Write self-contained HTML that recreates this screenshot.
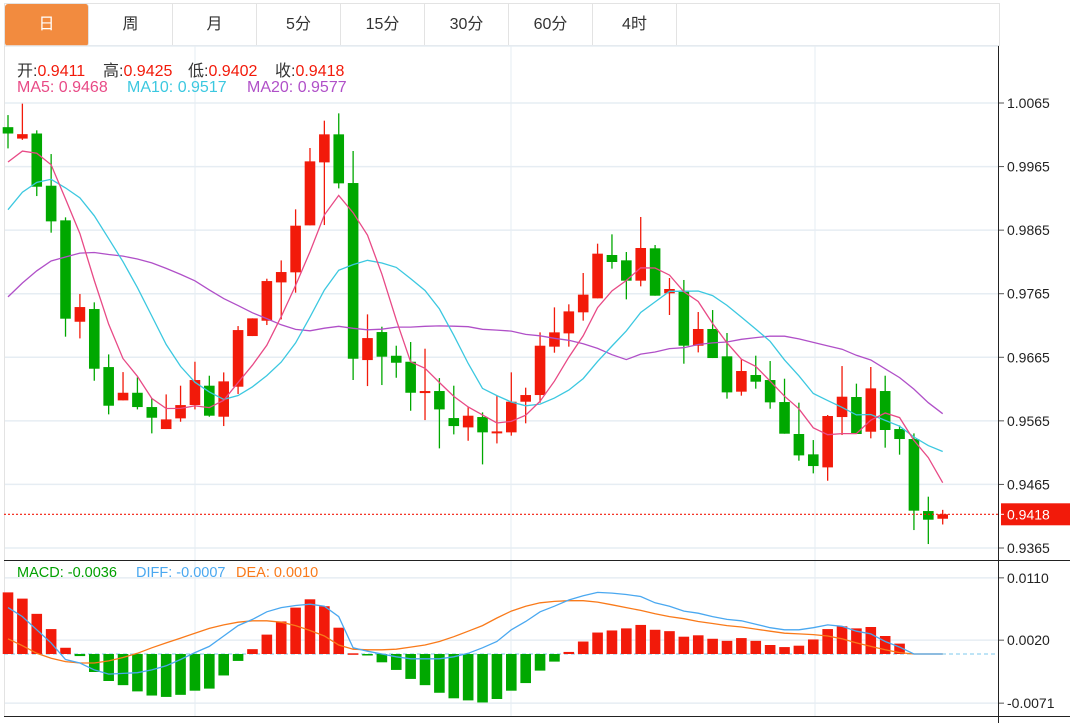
<!DOCTYPE html>
<html><head><meta charset="utf-8">
<style>
body{margin:0;background:#fff;width:1070px;height:723px;overflow:hidden;font-family:"Liberation Sans","Noto Sans CJK SC",sans-serif;}
#tabs{position:absolute;left:4px;top:3px;width:996px;height:43px;border:1px solid #e3e3e3;box-sizing:border-box;}
.tab{position:absolute;top:0;height:42px;width:84px;line-height:42px;text-align:center;font-size:16px;color:#333;border-right:1px solid #e3e3e3;box-sizing:border-box;}
.tab.on{background:#f28b3f;color:#fff;border-radius:3px;}
svg{position:absolute;left:0;top:0;}
.info{position:absolute;left:0;top:0;font-size:16px;white-space:nowrap;}
.info span{position:absolute;white-space:nowrap;}
</style></head><body>
<div id="tabs">
<div class="tab on" style="left:0">日</div>
<div class="tab" style="left:84px">周</div>
<div class="tab" style="left:168px">月</div>
<div class="tab" style="left:252px">5分</div>
<div class="tab" style="left:336px">15分</div>
<div class="tab" style="left:420px">30分</div>
<div class="tab" style="left:504px">60分</div>
<div class="tab" style="left:588px">4时</div>
</div>
<svg id="chart" width="1070" height="723"></svg>
<div class="info">
<span style="left:17px;top:57px"><span style="position:static;color:#333">开:</span><span style="position:static;color:#f21a0a">0.9411</span></span>
<span style="left:103px;top:57px"><span style="position:static;color:#333">高:</span><span style="position:static;color:#f21a0a">0.9425</span></span>
<span style="left:188px;top:57px"><span style="position:static;color:#333">低:</span><span style="position:static;color:#f21a0a">0.9402</span></span>
<span style="left:275px;top:57px"><span style="position:static;color:#333">收:</span><span style="position:static;color:#f21a0a">0.9418</span></span>
</div>
<div class="info">
<span style="left:17px;top:79px;color:#e84a86">MA5: 0.9468</span>
<span style="left:127px;top:79px;color:#3cc8e0">MA10: 0.9517</span>
<span style="left:247px;top:79px;color:#b050c8">MA20: 0.9577</span>
</div>
<div class="info" style="font-size:14.5px">
<span style="left:17px;top:565px;color:#00a000">MACD: -0.0036</span>
<span style="left:136px;top:565px;color:#4aa8f0">DIFF: -0.0007</span>
<span style="left:236px;top:565px;color:#f97a1a">DEA: 0.0010</span>
</div>
<script>
const opens=[1.0027,1.0009,1.0017,0.99349,0.98804,0.97209,0.97409,0.96496,0.95972,0.96092,0.95867,0.95521,0.95689,0.95898,0.96203,0.95715,0.96187,0.96984,0.97225,0.97828,0.97986,0.98725,0.99716,1.00157,0.99391,0.96606,0.97047,0.96674,0.9658,0.96087,0.96119,0.95694,0.95547,0.9571,0.95453,0.95469,0.95951,0.96056,0.96817,0.97026,0.97357,0.97577,0.98259,0.98175,0.97855,0.98364,0.97656,0.97698,0.96832,0.97095,0.96665,0.96109,0.96371,0.96292,0.95946,0.95443,0.95123,0.94918,0.9571,0.96025,0.95479,0.96119,0.95521,0.95364,0.94231,0.9411];
const highs=[1.0046,1.0064,1.0022,0.99847,0.98851,0.97645,0.97514,0.96695,0.96417,0.96334,0.96003,0.96066,0.96203,0.9658,0.9636,0.96412,0.97141,0.97262,0.97886,0.98174,0.98977,0.99942,1.00372,1.00487,0.99894,0.97325,0.97131,0.96832,0.9689,0.96785,0.96323,0.96203,0.95872,0.95783,0.96045,0.96413,0.96172,0.97042,0.97435,0.97483,0.97976,0.98437,0.98584,0.98306,0.98857,0.98416,0.97897,0.97866,0.97362,0.97393,0.97032,0.96623,0.96675,0.96591,0.96313,0.95936,0.95348,0.95742,0.96512,0.96235,0.96497,0.9636,0.95579,0.95453,0.94457,0.9425];
const lows=[0.99936,1.0007,0.99186,0.9861,0.96974,0.96947,0.96281,0.95752,0.95972,0.9583,0.95453,0.95521,0.95636,0.9583,0.95715,0.95568,0.96072,0.96984,0.97157,0.97246,0.97666,0.98725,0.9873,0.99307,0.96292,0.96197,0.96213,0.96328,0.95809,0.95662,0.95217,0.95437,0.95337,0.94965,0.95295,0.95417,0.95611,0.95936,0.96722,0.96817,0.97226,0.97577,0.98044,0.97561,0.97766,0.97619,0.97315,0.96549,0.96727,0.96638,0.95999,0.96046,0.96156,0.95841,0.95448,0.95023,0.94824,0.94708,0.95427,0.95443,0.95375,0.95228,0.95118,0.93932,0.93712,0.9402];
const closes=[1.0017,1.0016,0.99333,0.98788,0.97257,0.9744,0.9647,0.95888,0.96092,0.95867,0.95699,0.95673,0.95898,0.96292,0.95731,0.96271,0.97078,0.97262,0.97849,0.97991,0.9872,0.99732,1.00157,0.99386,0.96627,0.96952,0.96659,0.96564,0.96092,0.96119,0.9583,0.95568,0.95731,0.95469,0.95484,0.95951,0.96056,0.96832,0.97042,0.97372,0.97635,0.9828,0.98149,0.97855,0.98369,0.97619,0.97724,0.96832,0.97095,0.96638,0.96098,0.96434,0.96266,0.95941,0.95448,0.95107,0.94939,0.95726,0.9603,0.95443,0.96161,0.95506,0.95364,0.94237,0.94095,0.9418];
const priorCloses=[0.958,0.955,0.957,0.960,0.962,0.963,0.965,0.966,0.968,0.969,0.974,0.978,0.983,0.986,0.990,0.993,0.995,0.997,0.9994];
const macdHist=[0.0089,0.0080,0.0058,0.0036,0.0009,-0.0003,-0.0026,-0.0039,-0.0045,-0.0054,-0.0060,-0.0062,-0.0059,-0.0053,-0.0050,-0.0031,-0.0010,0.0007,0.0028,0.0047,0.0067,0.0079,0.0069,0.0038,0.0001,-0.0001,-0.0012,-0.0023,-0.0036,-0.0045,-0.0056,-0.0064,-0.0067,-0.0070,-0.0065,-0.0053,-0.0042,-0.0024,-0.0011,0.0003,0.0018,0.0031,0.0034,0.0037,0.0042,0.0035,0.0033,0.0025,0.0027,0.0022,0.0019,0.0023,0.0019,0.0013,0.0010,0.0012,0.0021,0.0036,0.0040,0.0037,0.0039,0.0026,0.0015,0,0,0];
const diffLine=[0.0067,0.0054,0.0035,0.0016,-0.0008,-0.0013,-0.0023,-0.0029,-0.0028,-0.0027,-0.0023,-0.0017,-0.0008,0.0002,0.0011,0.0026,0.0041,0.0050,0.0061,0.0067,0.0070,0.0072,0.0069,0.0054,0.0009,0.0004,0.0000,-0.0004,-0.0007,-0.0007,-0.0007,-0.0004,0.0001,0.0009,0.0018,0.0035,0.0047,0.0061,0.0069,0.0078,0.0084,0.0089,0.0088,0.0086,0.0083,0.0074,0.0069,0.0062,0.0059,0.0054,0.0050,0.0048,0.0043,0.0038,0.0035,0.0035,0.0038,0.0042,0.0040,0.0033,0.0029,0.0018,0.0010,0,0,0];
const deaLine=[0.0022,0.0012,0.0001,-0.0006,-0.0011,-0.0013,-0.0013,-0.0010,-0.0005,0.0001,0.0009,0.0016,0.0023,0.0030,0.0037,0.0042,0.0046,0.0048,0.0048,0.0046,0.0041,0.0034,0.0026,0.0013,0.0007,0.0006,0.0006,0.0007,0.0010,0.0013,0.0018,0.0025,0.0033,0.0041,0.0052,0.0062,0.0069,0.0074,0.0076,0.0077,0.0077,0.0075,0.0071,0.0067,0.0063,0.0058,0.0054,0.0051,0.0047,0.0044,0.0041,0.0039,0.0036,0.0033,0.0030,0.0029,0.0028,0.0026,0.0022,0.0016,0.0011,0.0006,0.0002,0,0,0];
const priceTicks=[1.0065,0.9965,0.9865,0.9765,0.9665,0.9565,0.9465,0.9365];
const macdTicks=[0.0110,0.0020,-0.0071];
const lastPrice=0.9418;

const svg=document.getElementById('chart');
const NS='http://www.w3.org/2000/svg';
function el(tag,attrs,parent){const e=document.createElementNS(NS,tag);for(const k in attrs)e.setAttribute(k,attrs[k]);(parent||svg).appendChild(e);return e;}
const xOf=i=>8+i*14.38;
const yP=p=>103+(1.0065-p)*6357;
const yM=v=>654-v*6923;

[195,511,815].forEach(x=>{const g=el('line',{x1:x,x2:x,y1:46,y2:716,stroke:'#e6edf3'});

});
priceTicks.forEach(t=>{const y=yP(t);
const g=el('line',{x1:4,x2:998,y1:y,y2:y,stroke:'#e6edf3','stroke-width':1.5});


el('line',{x1:999,x2:1004,y1:y,y2:y,stroke:'#555'});
const tx=el('text',{x:1007,y:y+5,'font-size':14,fill:'#222'});tx.textContent=t.toFixed(4);

});
el('line',{x1:4,x2:998,y1:46,y2:46,stroke:'#e6edf3','stroke-width':1.5});
macdTicks.forEach(t=>{const y=yM(t);
const g=el('line',{x1:4,x2:998,y1:y,y2:y,stroke:'#e6edf3','stroke-width':1.5});


el('line',{x1:999,x2:1004,y1:y,y2:y,stroke:'#555'});
const tx=el('text',{x:1007,y:y+5,'font-size':14,fill:'#222'});tx.textContent=t.toFixed(4);

});
el('line',{x1:4.5,x2:4.5,y1:46,y2:717,stroke:'#e3e3e3'});
el('line',{x1:998.5,x2:998.5,y1:46,y2:723,stroke:'#222'});
el('line',{x1:4,x2:1070,y1:560.5,y2:560.5,stroke:'#222'});
el('line',{x1:4,x2:1070,y1:716.5,y2:716.5,stroke:'#222'});

const RED='#f21a0a',GRN='#00a800';
for(let i=0;i<closes.length;i++){
 const x=xOf(i),up=closes[i]>=opens[i],c=up?RED:GRN;
 const g=el('g',{});
 
 
 el('line',{x1:x,x2:x,y1:yP(highs[i]),y2:yP(lows[i]),stroke:c,'stroke-width':1.3},g);
 const t=yP(Math.max(opens[i],closes[i])),b=yP(Math.min(opens[i],closes[i]));
 el('rect',{x:x-5.3,y:t,width:10.6,height:Math.max(1.5,b-t),fill:c},g);
}
const all=priorCloses.concat(closes),P=priorCloses.length;
function ma(n,color,name){let pts=[];for(let i=0;i<closes.length;i++){let s=0;for(let k=0;k<n;k++)s+=all[P+i-k];pts.push(xOf(i).toFixed(1)+','+yP(s/n).toFixed(1));}
 const l=el('polyline',{points:pts.join(' '),fill:'none',stroke:color,'stroke-width':1.3});
 
 }
ma(20,'#b050c8','ma20-line');ma(10,'#3cc8e0','ma10-line');ma(5,'#e84a86','ma5-line');
const ly=yP(lastPrice);
el('line',{x1:4,x2:998,y1:ly,y2:ly,stroke:'#f21a0a','stroke-dasharray':'2,2','stroke-width':1.2});
const lb=el('rect',{x:1001,y:ly-11,width:69,height:22,fill:'#f21a0a'});


el('line',{x1:999,x2:1004,y1:ly,y2:ly,stroke:'#fff'});
const lt=el('text',{x:1007,y:ly+5,'font-size':14,fill:'#fff'});lt.textContent=lastPrice.toFixed(4);
el('line',{x1:4,x2:998,y1:yM(0),y2:yM(0),stroke:'#7cc8ec','stroke-dasharray':'4,3'});
macdHist.forEach((v,i)=>{if(v===0)return;const x=xOf(i),y0=yM(0),y1=yM(v);
 const r=el('rect',{x:x-5.3,y:Math.min(y0,y1),width:10.6,height:Math.max(1.5,Math.abs(y1-y0)),fill:v>0?RED:GRN});
 
 });
function line(arr,color,name){const l=el('polyline',{points:arr.map((v,i)=>xOf(i).toFixed(1)+','+yM(v).toFixed(1)).join(' '),fill:'none',stroke:color,'stroke-width':1.3});
 
 }
line(deaLine,'#f97a1a','dea-line');line(diffLine,'#4aa8f0','diff-line');
</script>
</body></html>
